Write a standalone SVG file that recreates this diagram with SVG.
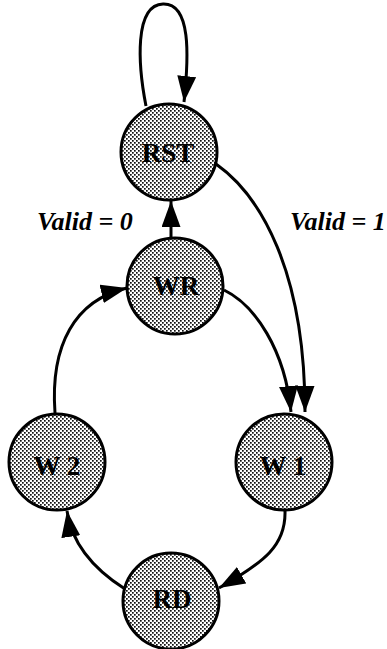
<svg xmlns="http://www.w3.org/2000/svg" width="387" height="649" viewBox="0 0 387 649">
  <defs>
    <!-- halftone stipple used to fill the state circles -->
    <pattern id="stipple" patternUnits="userSpaceOnUse" width="4" height="4">
      <rect width="4" height="4" fill="#ffffff"/>
      <rect x="0" y="0" width="1.7" height="1.7" fill="#111111"/>
      <rect x="2" y="2" width="1.7" height="1.7" fill="#111111"/>
    </pattern>
    <marker id="arrow" markerUnits="userSpaceOnUse" markerWidth="28" markerHeight="20" refX="26" refY="9.5" orient="auto">
      <path d="M0,0 L26,9.5 L0,19 Z" fill="#000"/>
    </marker>
  </defs>
  <style>
    .state { fill: url(#stipple); stroke: #000; stroke-width: 3; }
    .name { font-family: "Liberation Serif", "Times New Roman", serif; font-weight: bold; font-size: 27px; text-anchor: middle; fill: #000; }
    .cond { font-family: "Liberation Serif", "Times New Roman", serif; font-weight: bold; font-style: italic; font-size: 26px; fill: #000; }
    .edge { fill: none; stroke: #000; stroke-width: 3; marker-end: url(#arrow); }
  </style>
  <rect width="387" height="649" fill="#ffffff"/>

  <g id="connectors">
    <!-- RST self loop -->
    <path class="edge" d="M146,106 C138,65 134,5 163,4 C191,3 189,55 184,102"/>
    <!-- WR -> RST -->
    <path class="edge" d="M171,238 L171,201"/>
    <!-- RST -> W1 -->
    <path class="edge" d="M216,164 C260,195 305,270 305,412"/>
    <!-- WR -> W1 -->
    <path class="edge" d="M224,290 C255,305 285,350 291,412"/>
    <!-- W1 -> RD -->
    <path class="edge" d="M285,511 C286,545 265,562 219,588"/>
    <!-- RD -> W2 -->
    <path class="edge" d="M125,589 C95,570 72,545 67,511"/>
    <!-- W2 -> WR -->
    <path class="edge" d="M55,413 C50,345 75,300 127,288"/>
  </g>

  <g id="label-valid0"><text class="cond" x="37" y="230">Valid = 0</text></g>
  <g id="label-valid1"><text class="cond" x="290" y="230">Valid = 1</text></g>

  <g id="RST">
    <circle class="state" cx="169" cy="152" r="48"/>
    <text class="name" x="168" y="162">RST</text>
  </g>
  <g id="WR">
    <circle class="state" cx="175" cy="286" r="48"/>
    <text class="name" x="176" y="295">WR</text>
  </g>
  <g id="W2">
    <circle class="state" cx="57" cy="462" r="48"/>
    <text class="name" x="57" y="475">W 2</text>
  </g>
  <g id="W1">
    <circle class="state" cx="284" cy="462" r="48"/>
    <text class="name" x="283" y="475">W 1</text>
  </g>
  <g id="RD">
    <circle class="state" cx="171" cy="601" r="48"/>
    <text class="name" x="172" y="608">RD</text>
  </g>
</svg>
